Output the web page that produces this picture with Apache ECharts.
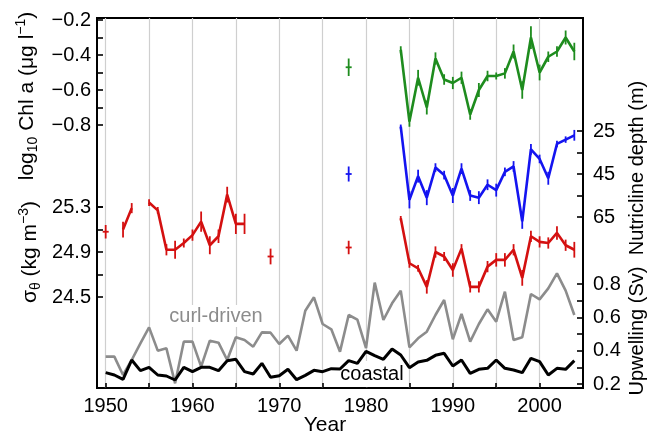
<!DOCTYPE html>
<html><head><meta charset="utf-8">
<script src="https://cdn.jsdelivr.net/npm/echarts@6/dist/echarts.min.js"></script>
<style>html,body{margin:0;padding:0;background:#fff}#c{width:648px;height:438px}</style>
</head><body><div id="c"></div>
<script>
// ---------- DATA ----------
const xTicks = [1950, 1955, 1960, 1965, 1970, 1975, 1980, 1985, 1990, 1995, 2000];
const xLabels = [1950, 1960, 1970, 1980, 1990, 2000];
const chlTicks = [-0.8, -0.6, -0.4, -0.2];
const nutTicks = [25, 45, 65];
const sigTicks = [24.5, 24.9, 25.3];
const upwTicks = [0.2, 0.4, 0.6, 0.8];

const obsYears = [1978, 1984, 1985, 1986, 1987, 1988, 1989, 1990, 1991, 1992, 1993, 1994,
  1995, 1996, 1997, 1998, 1999, 2000, 2001, 2002, 2003, 2004];
const chlVals = [-0.47, -0.37, -0.78, -0.53, -0.70, -0.42, -0.54, -0.56, -0.53, -0.74, -0.60, -0.52,
  -0.52, -0.505, -0.38, -0.60, -0.30, -0.50, -0.41, -0.38, -0.30, -0.38];
const chlErr = [0.05, 0.02, 0.03, 0.045, 0.04, 0.035, 0.03, 0.035, 0.035, 0.03, 0.04, 0.03,
  0.02, 0.03, 0.04, 0.05, 0.065, 0.045, 0.03, 0.03, 0.04, 0.05];
const nutVals = [45, 23, 57, 46, 56, 42, 45.5, 55, 42.5, 55, 56, 50,
  52.5, 44, 41.5, 67, 33.5, 38, 47, 31, 29, 27];
const nutErr = [3.5, 1, 4, 3, 3.5, 2, 2, 3.5, 2.5, 2.5, 3, 2.5,
  3, 2, 2.5, 3.5, 2.5, 2, 3, 1.5, 1.5, 2.5];

const sigYears = [1950, 1952, 1953, 1955, 1956, 1957, 1958, 1959, 1960, 1961, 1962, 1963, 1964, 1965, 1966, 1969, 1978,
  1984, 1985, 1986, 1987, 1988, 1989, 1990, 1991, 1992, 1993, 1994, 1995, 1996, 1997, 1998, 1999, 2000, 2001, 2002, 2003, 2004];
const sigVals = [25.08, 25.10, 25.29, 25.34, 25.27, 24.92, 24.92, 24.98, 25.05, 25.17, 24.96, 25.04, 25.41, 25.15, 25.15, 24.86, 24.94,
  25.20, 24.80, 24.755, 24.59, 24.90, 24.86, 24.74, 24.93, 24.59, 24.59, 24.77, 24.83, 24.83, 24.92, 24.67, 25.04, 24.99, 24.98, 25.07, 24.96, 24.92];
const sigErr = [0.06, 0.07, 0.045, 0.03, 0.03, 0.05, 0.08, 0.04, 0.05, 0.09, 0.08, 0.06, 0.07, 0.09, 0.09, 0.07, 0.06,
  0.02, 0.04, 0.03, 0.06, 0.05, 0.04, 0.06, 0.04, 0.05, 0.05, 0.05, 0.06, 0.06, 0.05, 0.07, 0.05, 0.05, 0.05, 0.06, 0.05, 0.07];

const upwYears = [1950, 1951, 1952, 1953, 1954, 1955, 1956, 1957, 1958, 1959,
  1960, 1961, 1962, 1963, 1964, 1965, 1966, 1967, 1968, 1969,
  1970, 1971, 1972, 1973, 1974, 1975, 1976, 1977, 1978, 1979,
  1980, 1981, 1982, 1983, 1984, 1985, 1986, 1987, 1988, 1989,
  1990, 1991, 1992, 1993, 1994, 1995, 1996, 1997, 1998, 1999,
  2000, 2001, 2002, 2003, 2004];
const curlDriven = [0.364, 0.364, 0.254, 0.344, 0.444, 0.54, 0.40, 0.414, 0.204, 0.454,
  0.454, 0.304, 0.46, 0.448, 0.344, 0.48, 0.464, 0.424, 0.51, 0.508,
  0.44, 0.49, 0.40, 0.64, 0.72, 0.56, 0.528, 0.394, 0.614, 0.586,
  0.416, 0.808, 0.584, 0.684, 0.76, 0.42, 0.474, 0.514, 0.614, 0.704,
  0.468, 0.62, 0.454, 0.56, 0.648, 0.574, 0.754, 0.464, 0.48, 0.74,
  0.708, 0.774, 0.864, 0.76, 0.614];
const coastal = [0.268, 0.254, 0.228, 0.344, 0.28, 0.30, 0.254, 0.248, 0.224, 0.30,
  0.274, 0.30, 0.30, 0.28, 0.34, 0.348, 0.274, 0.26, 0.324, 0.24,
  0.25, 0.288, 0.226, 0.252, 0.282, 0.274, 0.292, 0.29, 0.34, 0.324,
  0.396, 0.37, 0.348, 0.41, 0.374, 0.298, 0.332, 0.342, 0.372, 0.384,
  0.308, 0.344, 0.264, 0.288, 0.294, 0.344, 0.294, 0.284, 0.268, 0.354,
  0.334, 0.254, 0.294, 0.288, 0.34];

// ---------- STYLE / LAYOUT ----------
const FONT = '"Liberation Sans", Arial, Helvetica, sans-serif';
const GREEN = '#1e8c1e', BLUE = '#1414f0', RED = '#d41010', GREY = '#8c8c8c';
const L = 97, W = 486;
const X_MIN = 1949, X_MAX = 2005;

function lineData(years, vals) {
  const out = [];
  for (let i = 0; i < years.length; i++) {
    if (i > 0 && years[i] - years[i - 1] > 1) out.push([years[i - 1] + 1, null]);
    out.push([years[i], vals[i]]);
  }
  return out;
}
function errData(years, vals, errs) {
  return years.map((y, i) => {
    const prevGap = i === 0 || years[i] - years[i - 1] > 1;
    const nextGap = i === years.length - 1 || years[i + 1] - years[i] > 1;
    return [y, vals[i], errs[i], prevGap && nextGap ? 1 : 0];
  });
}
function errRender(color) {
  return function (params, api) {
    const x = api.value(0), v = api.value(1), e = api.value(2), iso = api.value(3);
    const lo = api.coord([x, v - e]), hi = api.coord([x, v + e]), c = api.coord([x, v]);
    const kids = [
      { type: 'line', shape: { x1: lo[0], y1: lo[1], x2: hi[0], y2: hi[1] }, style: { stroke: color, lineWidth: 1.8 } }
    ];
    if (iso) kids.push({ type: 'line', shape: { x1: c[0] - 3, y1: c[1], x2: c[0] + 3, y2: c[1] }, style: { stroke: color, lineWidth: 1.8 } });
    return { type: 'group', children: kids };
  };
}
const fmt = v => (Math.round(v * 10) / 10).toFixed(1).replace('-', '\u2212');
function yAx(grid, ticks, pos, opts) {
  return Object.assign({
    gridIndex: grid, type: 'value', position: pos,
    min: ticks[0], max: ticks[ticks.length - 1], interval: ticks[1] - ticks[0],
    axisLine: { show: false },
    axisTick: { show: true, inside: true, length: 6, lineStyle: { color: '#000', width: 1.6 } },
    minorTick: { show: true, splitNumber: 2, length: 6, lineStyle: { color: '#000', width: 1.6 } },
    splitLine: { show: false },
    axisLabel: { color: '#000', fontSize: 20, fontFamily: FONT, margin: pos === 'left' ? 6 : 10, formatter: fmt }
  }, opts || {});
}
function hiddenX(grid) {
  return { gridIndex: grid, type: 'value', min: X_MIN, max: X_MAX, show: false };
}
function lineSeries(xi, data, color, width) {
  return { type: 'line', xAxisIndex: xi, yAxisIndex: xi, data: data, symbol: 'none', clip: false,
    connectNulls: false, lineStyle: { color: color, width: width }, itemStyle: { color: color }, z: 3 };
}
function errSeries(xi, data, color) {
  return { type: 'custom', xAxisIndex: xi, yAxisIndex: xi, data: data, renderItem: errRender(color),
    encode: { x: 0, y: 1 }, clip: false, z: 3 };
}
const base = { fontFamily: FONT, fontSize: 21, fill: '#000' };
const sub = { fontFamily: FONT, fontSize: 14, fill: '#000', lineHeight: 14, verticalAlign: 'bottom' };
const sup = { fontFamily: FONT, fontSize: 14, fill: '#000', lineHeight: 14, verticalAlign: 'top' };
const mainRich = Object.assign({ lineHeight: 26 }, base);

const chart = echarts.init(document.getElementById('c'), null, { renderer: 'canvas' });
chart.setOption({
  animation: false,
  backgroundColor: '#fff',
  grid: [
    { left: L, top: 18, width: W, height: 370, show: true, borderColor: '#000', borderWidth: 2, backgroundColor: 'transparent' },
    { left: L, top: 20, width: W, height: 105 },
    { left: L, top: 131, width: W, height: 86 },
    { left: L, top: 207, width: W, height: 90 },
    { left: L, top: 284, width: W, height: 100 }
  ],
  xAxis: [
    {
      gridIndex: 0, type: 'value', min: X_MIN, max: X_MAX,
      axisLine: { show: false },
      axisTick: { show: true, inside: true, length: 5, customValues: xTicks, lineStyle: { color: '#000', width: 1.6 } },
      axisLabel: { customValues: xLabels, color: '#000', fontSize: 20, fontFamily: FONT, margin: 8, formatter: v => String(v) },
      splitLine: { show: true, lineStyle: { color: '#cfcfcf', width: 1.2 } }
    },
    hiddenX(1), hiddenX(2), hiddenX(3), hiddenX(4)
  ],
  yAxis: [
    { gridIndex: 0, type: 'value', min: 0, max: 1, show: false },
    yAx(1, chlTicks, 'left'),
    yAx(2, nutTicks, 'right', { inverse: true, axisLabel: { color: '#000', fontSize: 20, fontFamily: FONT, margin: 10 } }),
    yAx(3, sigTicks, 'left'),
    yAx(4, upwTicks, 'right')
  ],
  series: [
    lineSeries(4, upwYears.map((y, i) => [y, curlDriven[i]]), GREY, 2.6),
    lineSeries(4, upwYears.map((y, i) => [y, coastal[i]]), '#000', 3),
    lineSeries(1, lineData(obsYears, chlVals), GREEN, 2.6),
    errSeries(1, errData(obsYears, chlVals, chlErr), GREEN),
    lineSeries(2, lineData(obsYears, nutVals), BLUE, 2.6),
    errSeries(2, errData(obsYears, nutVals, nutErr), BLUE),
    lineSeries(3, lineData(sigYears, sigVals), RED, 2.6),
    errSeries(3, errData(sigYears, sigVals, sigErr), RED)
  ],
  graphic: [
    { type: 'text', x: 27, y: 96, rotation: Math.PI / 2, z: 100,
      style: { text: '{a|log}{b|10}{a| Chl a (\u03bcg l}{c|\u22121}{a|)}', align: 'center', verticalAlign: 'middle',
        rich: { a: mainRich, b: sub, c: sup } } },
    { type: 'text', x: 30, y: 252, rotation: Math.PI / 2, z: 100,
      style: { text: '{a|\u03c3}{b|\u03b8}{a| (kg m}{c|\u22123}{a|)}', align: 'center', verticalAlign: 'middle',
        rich: { a: mainRich, b: sub, c: sup } } },
    { type: 'text', x: 637, y: 168, rotation: Math.PI / 2, z: 100,
      style: { text: 'Nutricline depth (m)', font: '20px ' + FONT, fill: '#000', align: 'center', verticalAlign: 'middle' } },
    { type: 'text', x: 637, y: 331, rotation: Math.PI / 2, z: 100,
      style: { text: 'Upwelling (Sv)', font: '20px ' + FONT, fill: '#000', align: 'center', verticalAlign: 'middle' } },
    { type: 'text', x: 325, y: 425, z: 100,
      style: { text: 'Year', font: '21px ' + FONT, fill: '#000', align: 'center', verticalAlign: 'middle' } },
    { type: 'text', x: 216, y: 316, z: 2,
      style: { text: 'curl-driven', font: '20px ' + FONT, fill: GREY, align: 'center', verticalAlign: 'middle',
        backgroundColor: '#fff', padding: [1, 2, 1, 2] } },
    { type: 'text', x: 372, y: 374, z: 2,
      style: { text: 'coastal', font: '20px ' + FONT, lineHeight: 18, fill: '#000', align: 'center', verticalAlign: 'middle',
        backgroundColor: '#fff', padding: [8, 3, 0, 3] } }
  ]
});
</script></body></html>
